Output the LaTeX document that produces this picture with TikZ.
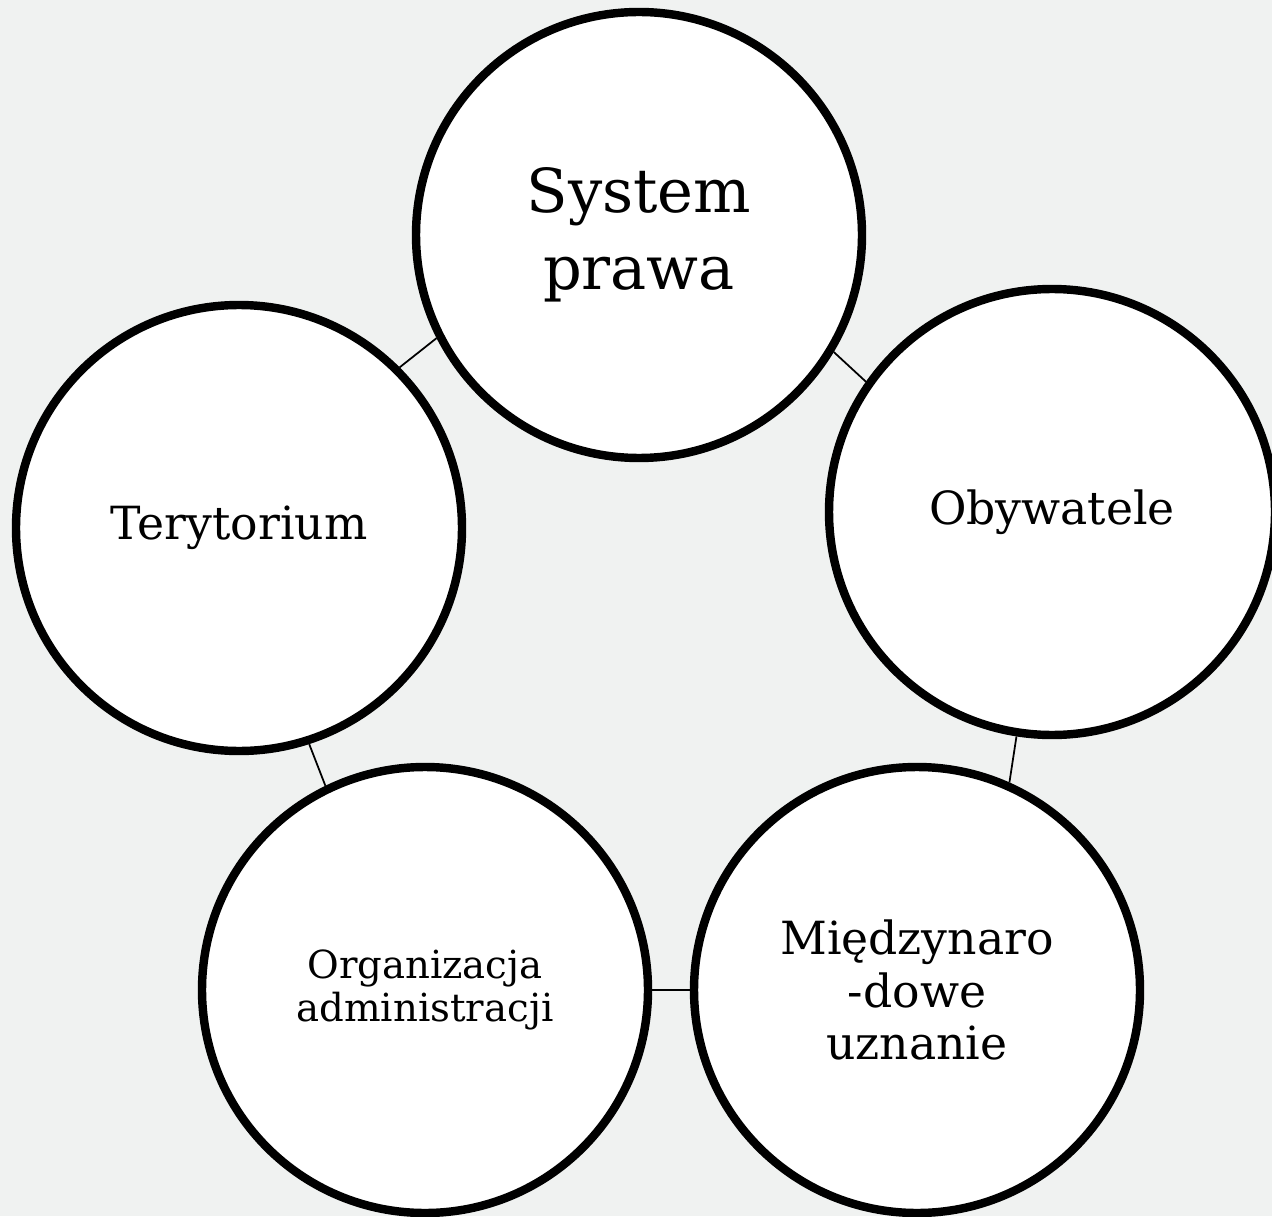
\documentclass[tikz,border=0pt]{standalone}
\usepackage{fontspec}
\setmainfont{DejaVu Serif}
\definecolor{bggray}{RGB}{240,242,241}

\begin{document}
\begin{tikzpicture}[
    part/.style={circle, draw=black, line width=4.8pt, fill=white, minimum size=8.92cm, inner sep=0pt, align=center},
    bigtext/.style={font=\fontsize{34.5}{44}\selectfont},
    midtext/.style={font=\fontsize{26}{30}\selectfont},
    smalltext/.style={font=\fontsize{22}{24}\selectfont},
    link/.style={line width=1pt, black}
]

% Background
\fill[bggray] (0,0) rectangle (25.44,24.32);
\useasboundingbox (0,0) rectangle (25.44,24.32);

% Circles
\node[part, bigtext] (sys) at (12.78, 19.62) {System\\prawa};
\node[part, midtext] (oby) at (21.04, 14.08) {Obywatele};
\node[part, midtext] (ter) at (4.78, 13.76) {Terytorium};
\node[part, smalltext] (org) at (8.50, 4.52) {Organizacja\\administracji};
\node[part, midtext] (uzn) at (18.34, 4.52) {Międzynaro\\-dowe\\uznanie};

% Links between neighbours
\draw[link] (sys.329) -- (oby.145);
\draw[link] (oby.261) -- (uzn.66);
\draw[link] (org.0) -- (uzn.180);
\draw[link] (ter.288) -- (org.116);
\draw[link] (ter.45) -- (sys.207);

\end{tikzpicture}
\end{document}
